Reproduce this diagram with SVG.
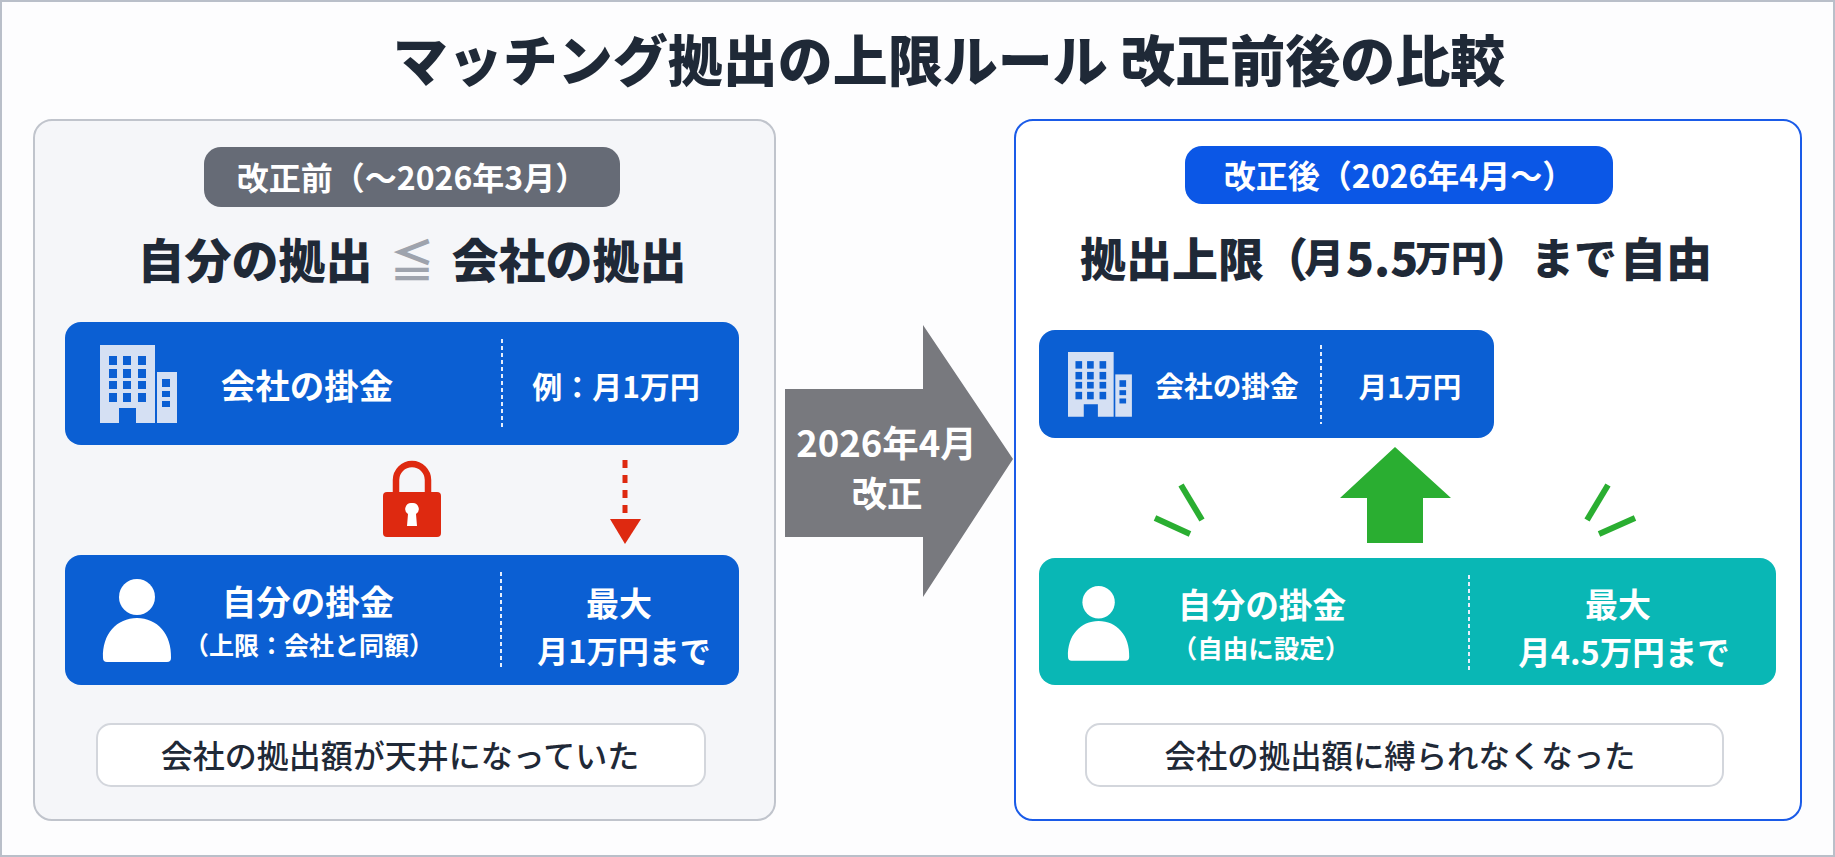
<svg xmlns="http://www.w3.org/2000/svg" width="1835" height="857" viewBox="0 0 1835 857">
<defs>
<style>
text{font-family:"Noto Sans CJK JP","Noto Sans",sans-serif;text-anchor:middle;dominant-baseline:central}
.dark{fill:#1f2937;font-weight:900}
.w{fill:#fff;font-weight:700}
.note{fill:#1f2937;font-weight:500}
.s{text-anchor:start}
.div{stroke:#e6eefb;stroke-width:2;stroke-dasharray:4 3;fill:none}
.card{stroke:#d3d6dc;stroke-width:2;fill:#fff}
.bld{fill:#d5e0f3}
.win{fill:#0b5fd3}
</style>
<g id="bldg">
<path class="bld" d="M0 0H55V78H36V63H19V78H0Z"/>
<rect class="bld" x="57" y="27" width="20" height="51"/>
<g class="win">
<rect x="9" y="11" width="8" height="9"/><rect x="23" y="11" width="8" height="9"/><rect x="38" y="11" width="8" height="9"/>
<rect x="9" y="24" width="8" height="9"/><rect x="23" y="24" width="8" height="9"/><rect x="38" y="24" width="8" height="9"/>
<rect x="9" y="36" width="8" height="8"/><rect x="23" y="36" width="8" height="8"/><rect x="38" y="36" width="8" height="8"/>
<rect x="9" y="48" width="8" height="9"/><rect x="23" y="48" width="8" height="9"/><rect x="38" y="48" width="8" height="9"/>
<rect x="62" y="34" width="8" height="8"/><rect x="62" y="46" width="8" height="6"/><rect x="62" y="56" width="8" height="6"/>
</g>
</g>
<g id="person" fill="#fff">
<ellipse cx="34" cy="18" rx="18" ry="18"/>
<path d="M0 79C-1 55 14 39 34 39S69 55 68 79Q68 83 64 83H4Q0 83 0 79Z"/>
</g>
</defs>
<rect x="1" y="1" width="1833" height="855" fill="#fdfdfe" stroke="#b9bfc9" stroke-width="2"/>
<text id="title" class="dark" x="949" y="57" font-size="55">マッチング拠出の上限ルール 改正前後の比較</text>

<g id="panel-before">
<rect x="34" y="120" width="741" height="700" rx="18" fill="#f5f6f9" stroke="#c0c4cc" stroke-width="2"/>
<rect x="204" y="147" width="416" height="60" rx="17" fill="#666b76"/>
<text class="w" x="412" y="176" font-size="32">改正前（～2026年3月）</text>
<text class="dark" x="255" y="257" font-size="47">自分の拠出</text>
<text x="412" y="258" font-size="45" fill="#9ea3ad" font-weight="700">≦</text>
<text class="dark" x="569" y="257" font-size="47">会社の拠出</text>
</g>
<g id="company-before">
<rect x="65" y="322" width="674" height="123" rx="16" fill="#0b5fd3"/>
<use href="#bldg" x="100" y="345"/>
<line class="div" x1="502" y1="339" x2="502" y2="430"/>
<text class="w" x="307" y="384" font-size="34.5">会社の掛金</text>
<text class="w" x="616" y="385" font-size="30">例：月1万円</text>
</g>
<g id="lock-before" fill="#de2910">
<path d="M396 495V480a16 16 0 0 1 32 0V495" fill="none" stroke="#de2910" stroke-width="6.5"/>
<rect x="383" y="492" width="58" height="45" rx="4"/>
<path d="M412 503a6 6 0 0 1 4 11l1 12H407l1-12a6 6 0 0 1 4-11Z" fill="#fff"/>
</g>
<g id="self-before">
<rect x="65" y="555" width="674" height="130" rx="16" fill="#0b5fd3"/>
<use href="#person" x="103" y="579"/>
<line class="div" x1="501" y1="572" x2="501" y2="669"/>
<text class="w" x="308" y="600" font-size="34.5">自分の掛金</text>
<text class="w" x="309" y="644" font-size="25">（上限：会社と同額）</text>
<text class="w" x="619" y="602" font-size="33">最大</text>
<text class="w" x="624" y="649" font-size="31">月1万円まで</text>
</g>
<g id="note-before">
<rect class="card" x="97" y="724" width="608" height="62" rx="14"/>
<text class="note" x="400" y="754" font-size="32">会社の拠出額が天井になっていた</text>
</g>

<g id="panel-after">
<rect x="1015" y="120" width="786" height="700" rx="18" fill="#fff" stroke="#1a5be8" stroke-width="2"/>
<rect x="1185" y="146" width="428" height="58" rx="17" fill="#0b57e6"/>
<text class="w" x="1399" y="174" font-size="32">改正後（2026年4月～）</text>
<text class="dark s" y="256" font-size="46"><tspan class="s" x="1080">拠出上限</tspan><tspan class="s" x="1262">（</tspan><tspan class="s" x="1304" font-size="40">月</tspan><tspan class="s" x="1346">5.5</tspan><tspan class="s" x="1415" font-size="36">万円</tspan><tspan class="s" x="1486">）</tspan><tspan class="s" x="1531" font-size="43">まで</tspan><tspan class="s" x="1620">自由</tspan></text>
</g>
<g id="company-after">
<rect x="1039" y="330" width="455" height="108" rx="16" fill="#0b5fd3"/>
<use href="#bldg" transform="translate(1068 352) scale(.83)"/>
<line class="div" x1="1321" y1="345" x2="1321" y2="424"/>
<text class="w" x="1227" y="384" font-size="28.7">会社の掛金</text>
<text class="w" x="1410" y="385" font-size="28.5">月1万円</text>
</g>
<g id="self-after">
<rect x="1039" y="558" width="737" height="127" rx="16" fill="#09b7b5"/>
<use href="#person" transform="translate(1068 586) scale(.9)"/>
<line class="div" x1="1469" y1="575" x2="1469" y2="670"/>
<text class="w" x="1262" y="603" font-size="33.7">自分の掛金</text>
<text class="w" x="1261" y="646" font-size="25.5">（自由に設定）</text>
<text class="w" x="1618" y="603" font-size="33">最大</text>
<text class="w" x="1624" y="650" font-size="32.5">月4.5万円まで</text>
</g>
<g id="note-after">
<rect class="card" x="1086" y="724" width="637" height="62" rx="14"/>
<text class="note" x="1400" y="754" font-size="31.4">会社の拠出額に縛られなくなった</text>
</g>

<g id="connectors">
<path id="arrow-main" d="M785 389H923V325L1013 459L923 597V537H785Z" fill="#78797e"/>
<text class="w" x="886.500" y="441" font-size="36.500">2026年4月</text>
<text class="w" x="887" y="491" font-size="35.500">改正</text>
<line x1="625" y1="460" x2="625" y2="518" stroke="#de2910" stroke-width="5" stroke-dasharray="8 7"/>
<path d="M610 519H641L625 544Z" fill="#de2910"/>
<path d="M1395 447L1451 498H1423V543H1367V498H1340Z" fill="#2aae31"/>
<g stroke="#2aae31" stroke-width="6" fill="none">
<line x1="1181" y1="485" x2="1202" y2="520"/>
<line x1="1155" y1="518" x2="1190" y2="534"/>
<line x1="1608" y1="485" x2="1587" y2="520"/>
<line x1="1635" y1="518" x2="1599" y2="534"/>
</g>
</g>
</svg>
